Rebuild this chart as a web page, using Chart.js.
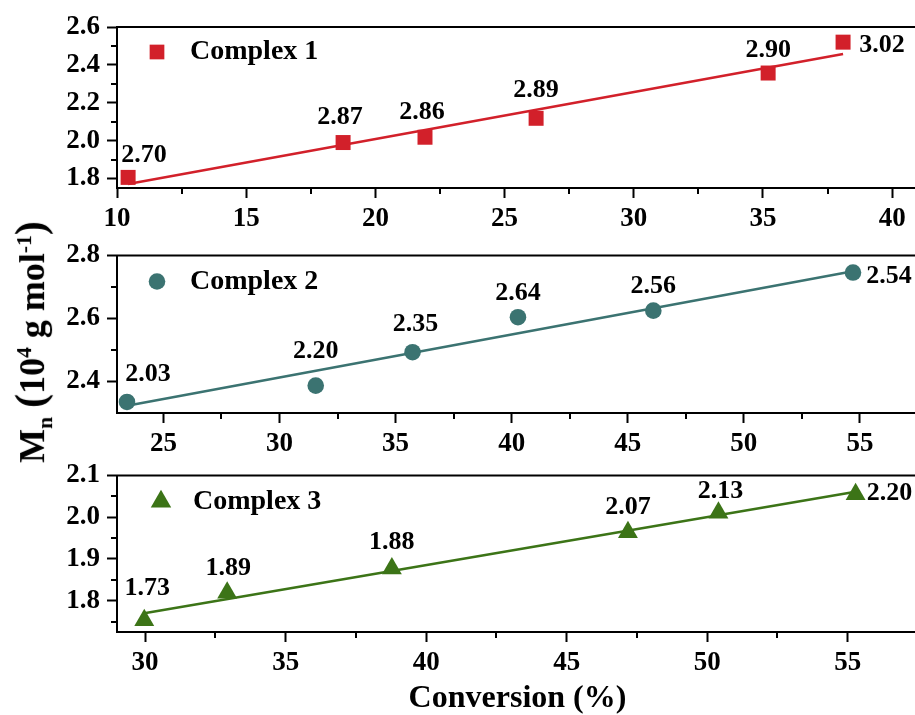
<!DOCTYPE html>
<html>
<head>
<meta charset="utf-8">
<script src="https://cdn.jsdelivr.net/npm/chart.js@4/dist/chart.umd.min.js"></script>
<style>
  html, body { margin: 0; padding: 0; background: #fff; overflow: hidden; width: 915px; height: 715px; }
  #wrap { position: relative; width: 918px; height: 715px; }
  #wrap canvas { position: absolute; left: 0; }
  #ytitle {
    position: absolute; left: 33px; top: 342px;
    transform: translate(-50%, -50%) rotate(-90deg);
    font: bold 36px "Liberation Serif", "Times New Roman", serif;
    white-space: nowrap; line-height: 1; color: #000;
  }
  #ytitle sub, #ytitle sup { font-size: 60%; }
  #ytitle .par { font-size: 42px; }
</style>
</head>
<body>
<div id="wrap">
  <canvas id="c1" width="918" height="235" style="top:0px"></canvas>
  <canvas id="c2" width="918" height="220" style="top:235px"></canvas>
  <canvas id="c3" width="918" height="260" style="top:455px"></canvas>
  <div id="ytitle">M<sub>n</sub> <span class="par">(</span>10<sup>4</sup> g mol<sup>-1</sup><span class="par">)</span></div>
</div>
<script>
// ---- Complex 1 ----
const conv1 = [10.43, 18.75, 21.92, 26.22, 35.2, 38.1];
const mn1   = [1.806, 1.99, 2.018, 2.118, 2.357, 2.52];
const pdi1  = ['2.70', '2.87', '2.86', '2.89', '2.90', '3.02'];
const fitX1 = [10.43, 38.1];
const fitY1 = [1.771, 2.458];
const xMajor1 = [10, 15, 20, 25, 30, 35, 40];
const xMinor1 = [12.5, 17.5, 22.5, 27.5, 32.5, 37.5];
const yMajor1 = [1.8, 2.0, 2.2, 2.4, 2.6];
const yMinor1 = [1.9, 2.1, 2.3, 2.5];

// ---- Complex 2 ----
const conv2 = [23.43, 31.56, 35.73, 40.27, 46.1, 54.7];
const mn2   = [2.335, 2.387, 2.493, 2.604, 2.625, 2.746];
const pdi2  = ['2.03', '2.20', '2.35', '2.64', '2.56', '2.54'];
const fitX2 = [23.43, 54.7];
const fitY2 = [2.323, 2.75];
const xMajor2 = [25, 30, 35, 40, 45, 50, 55];
const xMinor2 = [27.5, 32.5, 37.5, 42.5, 47.5, 52.5];
const yMajor2 = [2.4, 2.6, 2.8];
const yMinor2 = [2.5, 2.7];

// ---- Complex 3 ----
const conv3 = [29.97, 32.92, 38.78, 47.18, 50.40, 55.28];
const mn3   = [1.753, 1.819, 1.877, 1.964, 2.011, 2.055];
const pdi3  = ['1.73', '1.89', '1.88', '2.07', '2.13', '2.20'];
const fitX3 = [29.97, 55.28];
const fitY3 = [1.770, 2.061];
const xMajor3 = [30, 35, 40, 45, 50, 55];
const xMinor3 = [32.5, 37.5, 42.5, 47.5, 52.5];
const yMajor3 = [1.8, 1.9, 2.0, 2.1];
const yMinor3 = [1.75, 1.85, 1.95, 2.05];

const FONT = '"Liberation Serif", "Times New Roman", serif';

const panels = [
  {
    id: 'c1', name: 'Complex 1', color: '#d2202a', style: 'rect', radius: 10.6, legendRadius: 10.4,
    x: conv1, y: mn1, pdi: pdi1, fitX: fitX1, fitY: fitY1,
    xMin: 10, xMax: 41, yMin: 1.75, yMax: 2.6,
    xMajor: xMajor1, xMinor: xMinor1, yMajor: yMajor1, yMinor: yMinor1,
    top: 27, axisH: 47,
    labelOff: [[16, -22], [-3, -25], [-3, -25], [0, -28], [0, -23], [39, 3]],
    legend: { mx: 40, my: 25, tx: 73 }
  },
  {
    id: 'c2', name: 'Complex 2', color: '#3b7371', style: 'circle', radius: 8.3, legendRadius: 8.3,
    x: conv2, y: mn2, pdi: pdi2, fitX: fitX2, fitY: fitY2,
    xMin: 23, xMax: 57.5, yMin: 2.3, yMax: 2.8,
    xMajor: xMajor2, xMinor: xMinor2, yMajor: yMajor2, yMinor: yMinor2,
    top: 16, axisH: 42,
    labelOff: [[21, -28], [0, -34], [3, -28], [0, -24], [0, -24], [36, 4]],
    legend: { mx: 40, my: 26, tx: 73 }
  },
  {
    id: 'c3', name: 'Complex 3', color: '#3c7417', style: 'triangle', radius: 11.5, legendRadius: 11.8,
    x: conv3, y: mn3, pdi: pdi3, fitX: fitX3, fitY: fitY3,
    xMin: 29, xMax: 57.5, yMin: 1.725, yMax: 2.1,
    xMajor: xMajor3, xMinor: xMinor3, yMajor: yMajor3, yMinor: yMinor3,
    top: 15, axisH: 83,
    labelOff: [[3, -32], [1, -24], [0, -26], [0, -25], [2, -21], [34, -1]],
    legend: { mx: 44, my: 26, tx: 76 },
    xTitle: 'Conversion (%)'
  }
];

// frame line on top, minor ticks, value labels and the in-plot legend
const panelDecor = {
  id: 'panelDecor',
  afterDraw(chart, args, opts) {
    const p = opts.panel;
    const ctx = chart.ctx;
    const area = chart.chartArea;
    const xs = chart.scales.x, ys = chart.scales.y;
    ctx.save();
    ctx.strokeStyle = '#000';
    ctx.lineWidth = 2;
    ctx.beginPath();
    ctx.moveTo(area.left - 1, area.top);
    ctx.lineTo(area.right + 2, area.top);
    p.xMinor.forEach(v => {
      const px = Math.round(xs.getPixelForValue(v));
      ctx.moveTo(px, area.bottom);
      ctx.lineTo(px, area.bottom + 6);
    });
    p.yMinor.forEach(v => {
      const py = Math.round(ys.getPixelForValue(v));
      ctx.moveTo(area.left, py);
      ctx.lineTo(area.left - 6, py);
    });
    ctx.stroke();

    // values next to each point
    const meta = chart.getDatasetMeta(0);
    ctx.fillStyle = '#000';
    ctx.font = 'bold 26px ' + FONT;
    ctx.textAlign = 'center';
    ctx.textBaseline = 'middle';
    meta.data.forEach((pt, i) => {
      const off = p.labelOff[i];
      ctx.fillText(p.pdi[i], pt.x + off[0], pt.y + off[1]);
    });

    // legend
    const lx = area.left + p.legend.mx, ly = area.top + p.legend.my;
    ctx.fillStyle = p.color;
    Chart.helpers.drawPoint(ctx, { pointStyle: p.style, radius: p.legendRadius, rotation: 0, borderWidth: 0 }, lx, ly);
    ctx.fillStyle = '#000';
    ctx.font = 'bold 28px ' + FONT;
    ctx.textAlign = 'left';
    ctx.textBaseline = 'middle';
    ctx.fillText(p.name, area.left + p.legend.tx, ly);
    ctx.restore();
  }
};

panels.forEach(p => {
  const pts = p.x.map((v, i) => ({ x: v, y: p.y[i] }));
  const fit = p.fitX.map((v, i) => ({ x: v, y: p.fitY[i] }));
  const tickFont = { family: FONT, size: 27, weight: 'bold', lineHeight: 1 };
  new Chart(document.getElementById(p.id), {
    type: 'scatter',
    data: {
      datasets: [
        {
          label: p.name, data: pts,
          pointStyle: p.style, pointRadius: p.radius, pointHoverRadius: p.radius,
          backgroundColor: p.color, borderColor: p.color, pointBorderWidth: 0,
          showLine: false, order: 1
        },
        {
          label: p.name + ' fit', data: fit,
          showLine: true, borderColor: p.color, borderWidth: 2.5,
          pointRadius: 0, fill: false, order: 2
        }
      ]
    },
    options: {
      responsive: false,
      animation: false,
      events: [],
      layout: { autoPadding: false, padding: { top: p.top, left: 0, right: 0, bottom: 0 } },
      plugins: {
        legend: { display: false },
        tooltip: { enabled: false },
        panelDecor: { panel: p }
      },
      scales: {
        x: {
          type: 'linear', min: p.xMin, max: p.xMax,
          afterBuildTicks: s => { s.ticks = p.xMajor.map(v => ({ value: v })); },
          afterFit: s => { s.height = p.axisH; s.paddingRight = 0; s.paddingLeft = 0; },
          ticks: {
            color: '#000', font: tickFont, padding: 8, autoSkip: false, maxRotation: 0,
            callback: v => String(v)
          },
          grid: { drawOnChartArea: false, drawTicks: true, tickLength: 10, tickWidth: 2, tickColor: '#000' },
          border: { display: true, color: '#000', width: 2 },
          title: {
            display: !!p.xTitle, text: p.xTitle || '', color: '#000',
            font: { family: FONT, size: 32, weight: 'bold', lineHeight: 1 },
            padding: { top: 0, bottom: 0 }
          }
        },
        y: {
          type: 'linear', min: p.yMin, max: p.yMax,
          afterBuildTicks: s => { s.ticks = p.yMajor.map(v => ({ value: v })); },
          afterFit: s => { s.width = 117; },
          ticks: {
            color: '#000', font: tickFont, padding: 7, autoSkip: false,
            callback: v => Number(v).toFixed(1)
          },
          grid: { drawOnChartArea: false, drawTicks: true, tickLength: 10, tickWidth: 2, tickColor: '#000' },
          border: { display: true, color: '#000', width: 2 }
        }
      }
    },
    plugins: [panelDecor]
  });
});
</script>
</body>
</html>
